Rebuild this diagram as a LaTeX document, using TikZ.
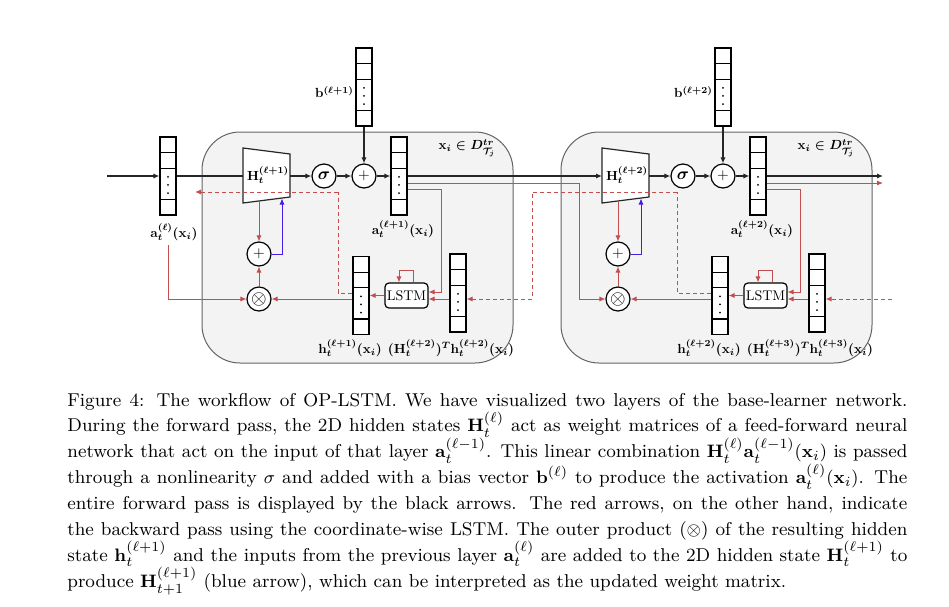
\documentclass[tikz,border=0pt]{standalone}
\usepackage{amsmath,amssymb}
\usetikzlibrary{arrows.meta,calc}
\definecolor{bred}{RGB}{196,78,78}
\definecolor{bblue}{RGB}{72,28,230}
\definecolor{blockfill}{RGB}{243,243,243}
\definecolor{blockdraw}{RGB}{100,100,100}
\newcommand\lbl[1]{\scalebox{0.66}{\fontsize{10}{12}\selectfont\boldmath$#1$}}
\tikzset{
 fw/.style={draw=black!85, line width=0.6pt, -{Latex[length=3pt,width=2.6pt]}},
 fwline/.style={draw=black!85, line width=0.6pt},
 bw/.style={draw=bred, line width=0.5pt, -{Latex[length=3pt,width=2.6pt]}},
 bwdash/.style={bw, dash pattern=on 2pt off 1.5pt},
 bwdashline/.style={draw=bred, line width=0.5pt, dash pattern=on 2pt off 1.5pt},
 upd/.style={draw=bblue, line width=0.5pt, -{Latex[length=3pt,width=2.6pt]}},
 vecnode/.style={draw, line width=0.6pt, fill=white, minimum width=8pt, minimum height=39pt, inner sep=0pt,
   path picture={
     \foreach \f in {0.2,0.4,0.8}{\draw[black, line width=0.6pt] ($(path picture bounding box.north west)!\f!(path picture bounding box.south west)$) -- ($(path picture bounding box.north east)!\f!(path picture bounding box.south east)$);}
     \foreach \f in {0.51,0.615,0.72}{\fill[black] ($(path picture bounding box.north)!\f!(path picture bounding box.south)$) circle (0.5pt);}
   }},
 opnode/.style={circle, draw, line width=0.6pt, fill=white, minimum size=12pt, inner sep=0pt},
 lstmnode/.style={draw, rounded corners=2pt, fill=white, line width=0.6pt, minimum width=21.5pt, minimum height=12.5pt, inner sep=0pt},
 lab/.style={inner sep=0pt},
 captext/.style={anchor=base west, inner sep=0pt, font=\fontsize{9.3}{11}\selectfont},
}
\newcommand\oplayer[4]{%
 \draw[draw=blockdraw, fill=blockfill, line width=0.5pt, rounded corners=19pt] (202,132) rectangle (513,363);
 \draw[fwline, fill=white] (243,148) -- (290,154) -- (290,197) -- (243,203) -- cycle;
 \node[lab] (H#1) at (268,175) {\lbl{\mathbf{H}_t^{(#2)}}};
 \coordinate (Hw#1) at (243,176);
 \coordinate (He#1) at (290,176);
 \coordinate (Hs#1) at (259,201);
 \coordinate (Hb#1) at (282,198.5);
 \node[opnode] (sig#1) at (324,176) {\scalebox{0.85}{\boldmath$\sigma$}};
 \node[opnode] (pl#1) at (364,176) {\scalebox{0.75}{$+$}};
 \node[vecnode] (b#1) at (364,87) {};
 \node[lab, anchor=east] (bl#1) at (354,92) {\lbl{\mathbf{b}^{(#2)}}};
 \node[vecnode] (out#1) at (399,176) {};
 \node[lab] (outl#1) at (403,229) {\lbl{\mathbf{a}_t^{(#2)}(\mathbf{x}_i)}};
 \node[lab] (dom#1) at (467,148) {\lbl{\mathbf{x}_i\in D^{tr}_{\mathcal{T}_j}}};
 \node[opnode] (rp#1) at (259,254) {\scalebox{0.75}{$+$}};
 \node[opnode] (ot#1) at (259,299) {$\otimes$};
 \node[lstmnode] (lstm#1) at (406.5,295.5) {\scalebox{0.7}{LSTM}};
 \node[vecnode] (hh#1) at (361,295.5) {};
 \node[lab] (hhl#1) at (350,348) {\lbl{\mathbf{h}_t^{(#2)}(\mathbf{x}_i)}};
 \node[vecnode] (ht#1) at (458,293) {};
 \node[lab] (htl#1) at (451,348) {\lbl{(\mathbf{H}_t^{(#3)})^T\mathbf{h}_t^{(#3)}(\mathbf{x}_i)}};
 \draw[fw] (He#1) -- (sig#1);
 \draw[fw] (sig#1) -- (pl#1);
 \draw[fw] (pl#1) -- (out#1);
 \draw[fw] (b#1) -- (pl#1);
 \draw[bw] (Hs#1) -- (rp#1);
 \draw[bw] (ot#1) -- (rp#1);
 \draw[upd] (rp#1.east) -| (Hb#1);
 \draw[bw] (out#1.east |- 0,189) -- (441,189) -- (441,292) -- (lstm#1.east |- 0,292);
 \draw[bw] (ht#1.west |- 0,299) -- (lstm#1.east |- 0,299);
 \draw[bw] (lstm#1.west) -- (hh#1.east |- lstm#1.west);
 \draw[bw] ([xshift=3.25pt]lstm#1.north) -- ++(0,-12) -- ++(-14,0) -- ++(0,12);
 \draw[bw] (hh#1.west |- ot#1.east) -- (ot#1.east);
 \draw[bwdashline] (hh#1.west |- 0,293) -- (#4,293) -- (#4,192) coordinate (dd#1);
}
\begin{document}
\begin{tikzpicture}[x=0.5pt,y=-0.5pt]
\useasboundingbox (0,0) rectangle (949,606);
\oplayer{1}{\ell+1}{\ell+2}{338}
\begin{scope}[shift={(359,0)}]
\oplayer{2}{\ell+2}{\ell+3}{318}
\end{scope}
% input vector
\node[vecnode] (a0) at (168,176) {};
\node[lab] (a0l) at (174,232) {\lbl{\mathbf{a}_t^{(\ell)}(\mathbf{x}_i)}};
\coordinate (inp) at (107,176);
\draw[fw] (inp) -- (a0);
\draw[fwline] (a0) -- (Hw1);
\draw[fw] (out1) -- (Hw2);
\coordinate (outp) at (883,176);
\draw[fw] (out2) -- (outp);
\coordinate (rin) at (168,245);
\draw[bw] (rin) |- (ot1);
\draw[bw] (out1.east |- 0,183) -- (579,183) |- (ot2);
\coordinate (routp) at (883,183);
\draw[bw] (out2.east |- 0,183) -- (routp);
\coordinate (dl) at (195,192);
\draw[bwdash] (dd1) -- (dl);
\draw[bwdash] (dd2) -- (532,192) -- (532,299) -- (ht1.east |- 0,299);
\coordinate (din) at (892,299);
\draw[bwdash] (din) -- (ht2.east |- din);
% caption
\node[captext] (c1) at (67,406) {\makebox[420pt][s]{Figure 4: The workflow of OP-LSTM. We have visualized two layers of the base-learner network.}};
\node[captext] (c2) at (67,431.9) {\makebox[420pt][s]{During the forward pass, the 2D hidden states $\mathbf{H}_t^{(\ell)}$ act as weight matrices of a feed-forward neural}};
\node[captext] (c3) at (67,457.8) {\makebox[420pt][s]{network that act on the input of that layer $\mathbf{a}_t^{(\ell-1)}$. This linear combination $\mathbf{H}_t^{(\ell)}\mathbf{a}_t^{(\ell-1)}(\mathbf{x}_i)$ is passed}};
\node[captext] (c4) at (67,483.7) {\makebox[420pt][s]{through a nonlinearity $\sigma$ and added with a bias vector $\mathbf{b}^{(\ell)}$ to produce the activation $\mathbf{a}_t^{(\ell)}(\mathbf{x}_i)$. The}};
\node[captext] (c5) at (67,509.6) {\makebox[420pt][s]{entire forward pass is displayed by the black arrows. The red arrows, on the other hand, indicate}};
\node[captext] (c6) at (67,535.5) {\makebox[420pt][s]{the backward pass using the coordinate-wise LSTM. The outer product ($\otimes$) of the resulting hidden}};
\node[captext] (c7) at (67,561.4) {\makebox[420pt][s]{state $\mathbf{h}_t^{(\ell+1)}$ and the inputs from the previous layer $\mathbf{a}_t^{(\ell)}$ are added to the 2D hidden state $\mathbf{H}_t^{(\ell+1)}$ to}};
\node[captext] (c8) at (67,587.3) {produce $\mathbf{H}_{t+1}^{(\ell+1)}$ (blue arrow), which can be interpreted as the updated weight matrix.};
\end{tikzpicture}
\end{document}
